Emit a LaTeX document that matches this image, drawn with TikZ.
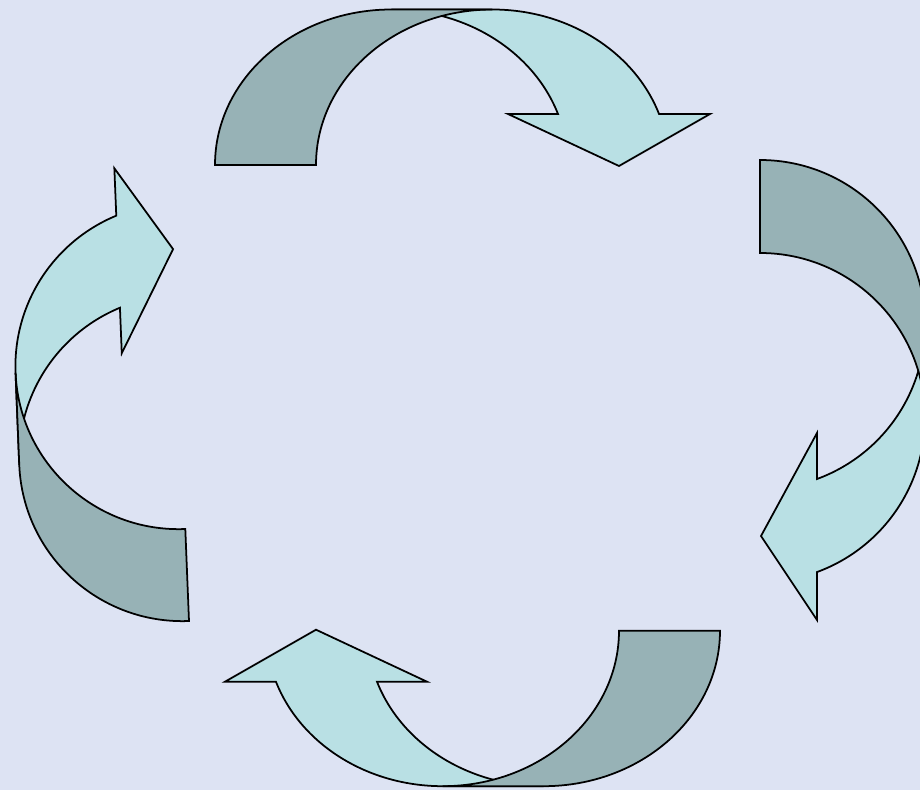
\documentclass[tikz,border=0pt]{standalone}
\usepackage{xcolor}
\definecolor{bgblue}{RGB}{221,227,243}
\definecolor{backteal}{RGB}{151,178,182}
\definecolor{frontteal}{RGB}{185,224,228}

\begin{document}
\begin{tikzpicture}[x=0.02cm, y=-0.02cm,
  back/.style={draw, fill=backteal, line width=1pt},
  front/.style={draw, fill=frontteal, line width=1pt},
  harrow/.pic={
    \path[front] (492.4,9.5)
      arc[start angle=270, end angle=340.85, x radius=176.4, y radius=155.5]
      -- (710,114) -- (619,166) -- (508,114) -- (558,114)
      arc[start angle=340.85, end angle=270, x radius=176.4, y radius=155.5] -- cycle;
    \path[back] (215,165)
      arc[start angle=180, end angle=270, x radius=176.4, y radius=155.5]
      -- (492.4,9.5)
      arc[start angle=270, end angle=180, x radius=176.4, y radius=155.5] -- cycle;
  },
  varrow/.pic={
    \path[front] (925,417.6)
      arc[start angle=0, end angle=69.8, x radius=165, y radius=164.6]
      -- (817,620) -- (761,536) -- (817,433) -- (817,479)
      arc[start angle=69.8, end angle=0, x radius=165, y radius=164.6] -- cycle;
    \path[back] (760,160)
      arc[start angle=270, end angle=360, x radius=165, y radius=164.6]
      -- (925,417.6)
      arc[start angle=360, end angle=270, x radius=165, y radius=164.6] -- cycle;
  },
]
\useasboundingbox (0,0) rectangle (920,790);
\fill[bgblue] (0,0) rectangle (920,790);
\clip (0,0) rectangle (920,790);

\pic (top) at (0,0) {harrow};
\pic (right) at (0,0) {varrow};
\pic[rotate=180] (bottom) at (935,795.7) {harrow};
\pic[rotate=182.3, scale=0.99] (left) at (947.1,749.1) {varrow};
\end{tikzpicture}
\end{document}
